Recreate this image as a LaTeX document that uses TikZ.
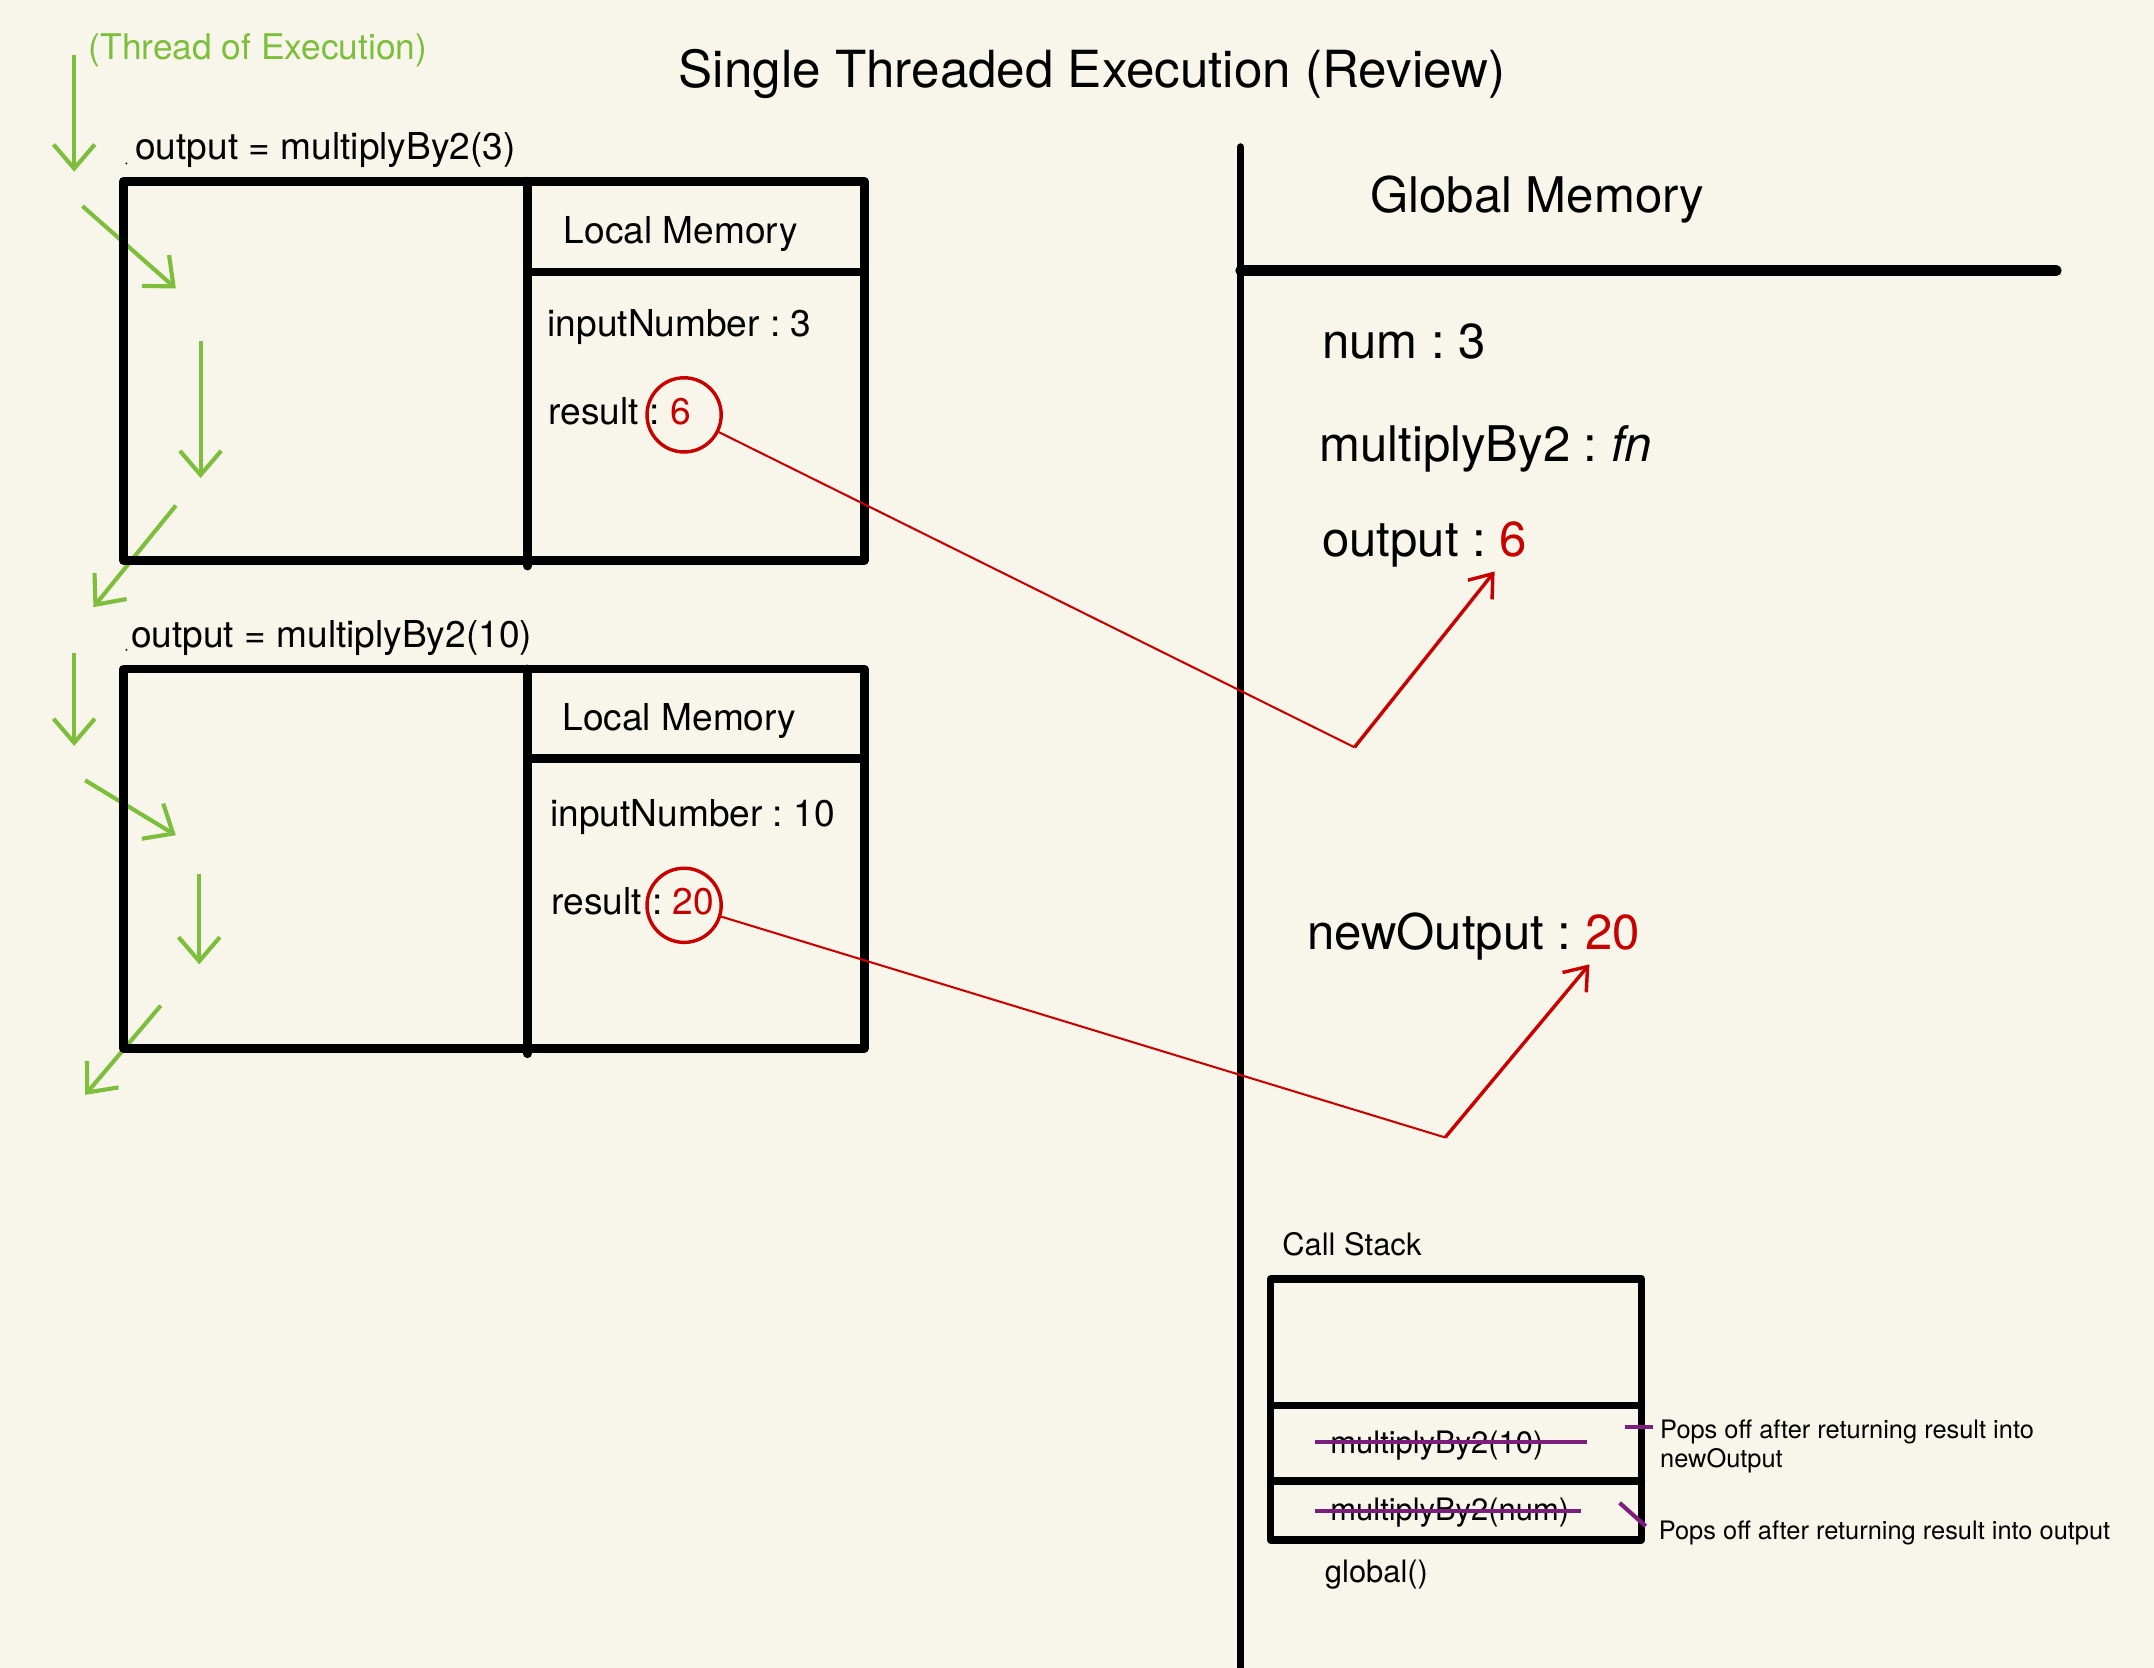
\documentclass[tikz,border=0pt]{standalone}
\usepackage{fontspec}
\setmainfont{TeX Gyre Heros}
\usetikzlibrary{arrows.meta}
\definecolor{paper}{RGB}{248,246,234}
\definecolor{thread}{RGB}{125,190,60}
\definecolor{retred}{RGB}{200,0,0}
\definecolor{popviolet}{RGB}{125,30,125}
\newcommand{\fsz}[2]{\fontsize{#1pt}{#2pt}\selectfont}
\frenchspacing
\tikzset{
  >=Stealth,
}

\begin{document}
\begin{tikzpicture}[
  x=0.4pt,y=-0.4pt,
  txt/.style={anchor=base west,inner sep=0pt},
  big/.style={txt,font=\fsz{14.3}{17}},
  small/.style={txt,font=\fsz{10.8}{13}},
  tiny/.style={txt,font=\fsz{9}{11}},
  note/.style={txt,font=\fsz{7.4}{8.4},align=left},
  frame/.style={line width=2.6pt,line cap=round,line join=round},
  stackbox/.style={line width=2.1pt,line cap=round,line join=round},
  flow/.style={thread,line width=1.2pt,-{Straight Barb[length=7pt,width=12pt]}},
  ring/.style={draw=retred,circle,line width=1pt,minimum size=21.6pt,inner sep=0pt},
  ret/.style={retred,line width=1pt,-{Straight Barb[length=6pt,width=9pt]}},
  strike/.style={popviolet,line width=1.2pt}
]

\fill[paper] (0,0) rectangle (1568,1214);
\useasboundingbox (0,0) rectangle (1568,1214);

\node[font=\fsz{14.9}{18},anchor=base,inner sep=0pt] (title) at (795,64)
  {Single Threaded Execution (Review)};
\node[txt,font=\fsz{10.3}{12},text=thread] (threadlbl) at (64,43)
  {(Thread of Execution)};

% thread of execution
\draw[flow] (54,40) -- (54,125);
\draw[flow] (60,150) -- (128,210);
\draw[flow] (146,248) -- (146,348);
\draw[flow] (128,368) -- (68,442);
\draw[flow] (54,475) -- (54,543);
\draw[flow] (62,568) -- (128,608);
\draw[flow] (145,636) -- (145,702);
\draw[flow] (117,732) -- (62,797);

% first call
\fill (92,119) circle (0.8);
\node[small] (callA) at (98,116) {output = multiplyBy2(3)};
\draw[frame] (90,132) rectangle (629,408);
\draw[frame] (384,132) -- (384,412);
\draw[frame] (384,198) -- (629,198);
\node[small] (lmA) at (410,177) {Local Memory};
\node[small] (inA) at (398,245) {inputNumber : 3};
\node[small] (resA) at (399,309) {result : \textcolor{retred}{6}};
\node[ring] (ringA) at (498,302) {};

% second call
\fill (92,473) circle (0.8);
\node[small] (callB) at (95,471) {output = multiplyBy2(10)};
\draw[frame] (90,487) rectangle (629,763);
\draw[frame] (384,487) -- (384,767);
\draw[frame] (384,552) -- (629,552);
\node[small] (lmB) at (409,532) {Local Memory};
\node[small] (inB) at (400,602) {inputNumber : 10};
\node[small] (resB) at (401,666) {result : \textcolor{retred}{20}};
\node[ring] (ringB) at (498,659) {};

% global memory
\draw[line width=2.2pt,line cap=round] (903,107) -- (903,1214);
\draw[line width=3pt,line cap=round] (903,197) -- (1497,197);
\node[big] (gmem) at (997,155) {Global Memory};
\node[big] (gnum) at (962,261) {num : 3};
\node[big] (gfn) at (960,336) {multiplyBy2 : \textit{fn}};
\node[big] (gout) at (962,405) {output : \textcolor{retred}{6}};
\node[big] (gnew) at (951,691) {newOutput : \textcolor{retred}{20}};

\coordinate (kinkA) at (986,544);
\coordinate (tipA) at (1088,416);
\coordinate (kinkB) at (1052,828);
\coordinate (tipB) at (1157,702);
\draw[retred,line width=0.6pt] (ringA) -- (kinkA);
\draw[ret] (kinkA) -- (tipA);
\draw[retred,line width=0.6pt] (ringB) -- (kinkB);
\draw[ret] (kinkB) -- (tipB);

% call stack
\node[tiny] (cstack) at (933,914) {Call Stack};
\draw[stackbox] (925,931) rectangle (1195,1121);
\draw[stackbox] (925,1023) -- (1195,1023);
\draw[stackbox] (925,1078) -- (1195,1078);
\node[tiny] (popB) at (968,1058) {multiplyBy2(10)};
\node[tiny] (popA) at (968,1107) {multiplyBy2(num)};
\node[tiny] (glob) at (964,1152) {global()};
\draw[strike] (957,1050) -- (1155,1050);
\draw[strike] (957,1100) -- (1151,1100);

\node[note] (noteB) at (1208,1068) {Pops off after returning result into\\newOutput};
\node[note] (noteA) at (1207,1121) {Pops off after returning result into output};
\draw[strike] (1183,1039) -- (1203,1039);
\draw[strike] (1179,1094) -- (1198,1111);

\end{tikzpicture}
\end{document}
